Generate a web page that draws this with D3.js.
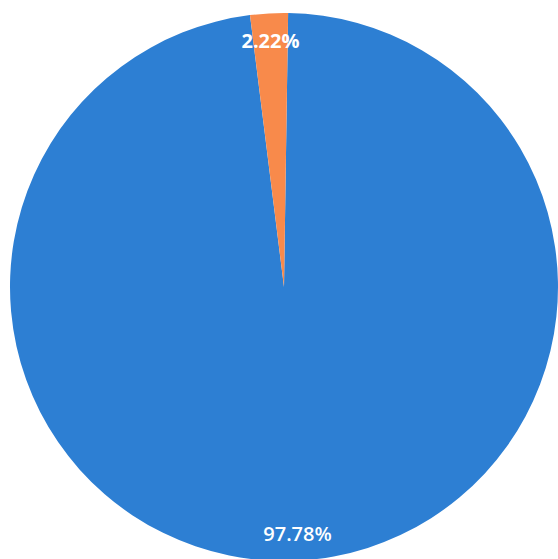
<!DOCTYPE html>
<html>
<head>
<meta charset="utf-8">
<script src="https://cdn.jsdelivr.net/npm/d3@7"></script>
<style>
  html, body { margin: 0; padding: 0; background: #ffffff; }
  svg { display: block; }
</style>
</head>
<body>
<svg id="chart" width="558" height="559"></svg>
<script>
const categories = ["A", "B"];
const values = [97.78, 2.22];
const labels = ["97.78%", "2.22%"];
const colors = ["#2d7fd3", "#f88a4b"];

const width = 558, height = 559;
const cx = 284, cy = 287, radius = 274;

const svg = d3.select("#chart");
const g = svg.append("g").attr("transform", `translate(${cx},${cy})`);

const data = categories.map((c, i) => ({ cat: c, value: values[i], label: labels[i], color: colors[i] }));

const rot = 0.015;
const pie = d3.pie().value(d => d.value).sort(null).startAngle(rot).endAngle(2 * Math.PI + rot);
const arc = d3.arc().innerRadius(0).outerRadius(radius);
const labelArc = d3.arc().innerRadius(247).outerRadius(247);

const arcs = pie(data);

g.selectAll("path.slice")
  .data(arcs)
  .join("path")
  .attr("class", "slice")
  .attr("d", arc)
  .attr("fill", d => d.data.color);

g.selectAll("text.lbl")
  .data(arcs)
  .join("text")
  .attr("class", "lbl")
  .attr("transform", d => `translate(${labelArc.centroid(d)})`)
  .attr("text-anchor", "middle")
  .attr("dominant-baseline", "central")
  .attr("fill", "#ffffff")
  .attr("font-family", "'Open Sans', sans-serif")
  .attr("font-size", "20px")
  .attr("font-weight", (d, i) => i === 1 ? 700 : 600)
  .text(d => d.data.label);
</script>
</body>
</html>
